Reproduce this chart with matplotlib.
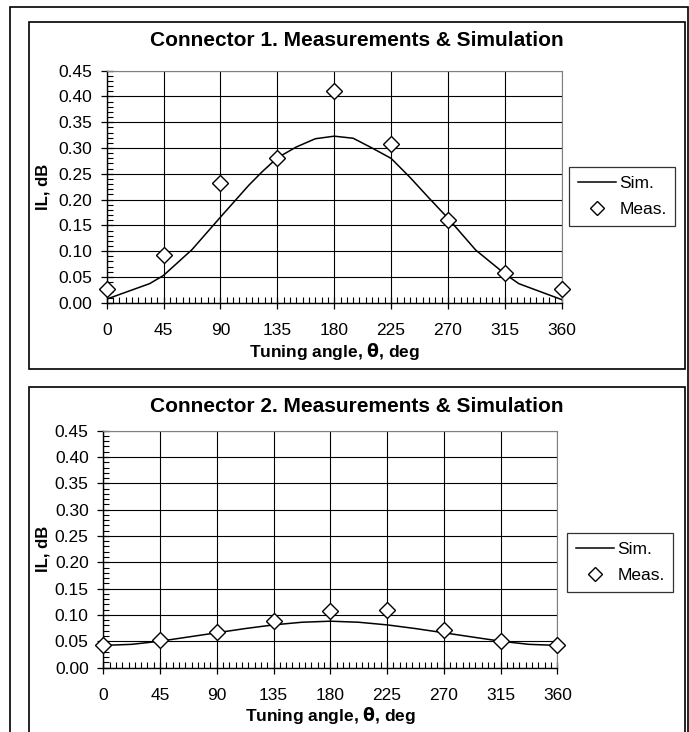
import numpy as np
import matplotlib.pyplot as plt
from matplotlib.patches import Rectangle
from matplotlib.ticker import MultipleLocator, FormatStrFormatter

plt.rcParams['font.family'] = ['Liberation Sans', 'DejaVu Sans']

# measured points (every 45 deg)
angles = [0, 45, 90, 135, 180, 225, 270, 315, 360]
meas1 = [0.027, 0.092, 0.233, 0.281, 0.411, 0.308, 0.161, 0.058, 0.027]
meas2 = [0.042, 0.052, 0.068, 0.089, 0.107, 0.110, 0.071, 0.050, 0.042]

# simulation curves
sim1_x = [0, 34, 45, 67.5, 90, 112.5, 123, 135, 150, 165, 180, 195, 210, 225, 240, 255, 270, 292, 315, 326, 360]
sim1_y = [0.007, 0.037, 0.053, 0.103, 0.166, 0.228, 0.254, 0.281, 0.302, 0.318, 0.323, 0.319, 0.300, 0.280,
          0.243, 0.203, 0.164, 0.102, 0.056, 0.037, 0.006]
sim2_x = [0, 22.5, 45, 67.5, 90, 112.5, 135, 157.5, 180, 202.5, 225, 247.5, 270, 292.5, 315, 337.5, 360]
sim2_y = [0.042, 0.044, 0.050, 0.058, 0.066, 0.074, 0.081, 0.086, 0.088, 0.086, 0.081, 0.074, 0.066,
          0.058, 0.050, 0.044, 0.042]

titles = ['Connector 1. Measurements & Simulation', 'Connector 2. Measurements & Simulation']

W, H = 689, 732
fig = plt.figure(figsize=(W / 100, H / 100), dpi=100)


def fx(px):
    return px / W


def fy(py):
    return 1 - py / H


# outer frame and panel frames
fig.patches.append(Rectangle((fx(10), fy(745)), fx(678), (745 - 7) / H, transform=fig.transFigure,
                             fill=False, ec='black', lw=1.2))
fig.patches.append(Rectangle((fx(29), fy(369)), fx(656), (369 - 21.7) / H, transform=fig.transFigure,
                             fill=False, ec='black', lw=1.2))
fig.patches.append(Rectangle((fx(29), fy(745)), fx(656), (745 - 387) / H, transform=fig.transFigure,
                             fill=False, ec='black', lw=1.2))

panels = [
    dict(l=106.7, r=561.7, t=70.7, b=302.7, title_y=40.7, xlab_y=352, leg=(569, 167),
         meas=meas1, sx=sim1_x, sy=sim1_y),
    dict(l=103.3, r=557.3, t=430.7, b=667.5, title_y=407, xlab_y=715, leg=(567, 533),
         meas=meas2, sx=sim2_x, sy=sim2_y),
]

for i, p in enumerate(panels):
    ax = fig.add_axes([fx(p['l']), fy(p['b']), fx(p['r'] - p['l']), (p['b'] - p['t']) / H])
    ax.plot(p['sx'], p['sy'], color='black', lw=1.1, label='Sim.', zorder=3)
    ax.plot(angles, p['meas'], ls='none', marker='D', ms=8.5, mfc='white', mec='black', mew=1.0,
            label='Meas.', zorder=4, clip_on=False)
    ax.set_xlim(0, 360)
    ax.set_ylim(0, 0.45)
    ax.xaxis.set_major_locator(MultipleLocator(45))
    ax.xaxis.set_minor_locator(MultipleLocator(5))
    ax.yaxis.set_major_locator(MultipleLocator(0.05))
    ax.yaxis.set_minor_locator(MultipleLocator(0.01))
    ax.yaxis.set_major_formatter(FormatStrFormatter('%.2f'))
    ax.grid(True, which='major', color='black', lw=0.8)
    ax.tick_params(which='major', direction='inout', length=9, width=0.9, labelsize=12.5, pad=6)
    ax.tick_params(which='minor', direction='in', length=4, width=0.8)
    ax.tick_params(axis='x', which='major', pad=10)
    for s in ['top', 'right']:
        ax.spines[s].set_color('#808080')
    for s in ['left', 'bottom']:
        ax.spines[s].set_linewidth(1.0)
    ax.set_axisbelow(True)

    cx = (29 + 685) / 2
    fig.text(fx(cx), fy(p['title_y']), titles[i], ha='center', va='center', fontsize=15,
             fontweight='bold')
    fig.text(fx((p['l'] + p['r']) / 2), fy(p['xlab_y']), 'Tuning angle, $\\mathbf{\\theta}$, deg',
             ha='center', va='center', fontsize=12.5, fontweight='bold')
    fig.text(fx(43), fy((p['t'] + p['b']) / 2), 'IL, dB', ha='center', va='center', rotation=90,
             fontsize=12, fontweight='bold')

    l0, t0 = p['leg']
    leg = ax.legend(loc='upper left', bbox_to_anchor=(fx(l0), fy(t0)), bbox_transform=fig.transFigure,
                    frameon=True, fancybox=False, edgecolor='black', fontsize=12.5, handlelength=2.2,
                    handletextpad=0.2, borderpad=0.5, labelspacing=0.65, borderaxespad=0)
    leg.get_frame().set_linewidth(0.9)
    leg.legend_handles[1].set_markersize(7)

fig.savefig('out.png', dpi=100)
